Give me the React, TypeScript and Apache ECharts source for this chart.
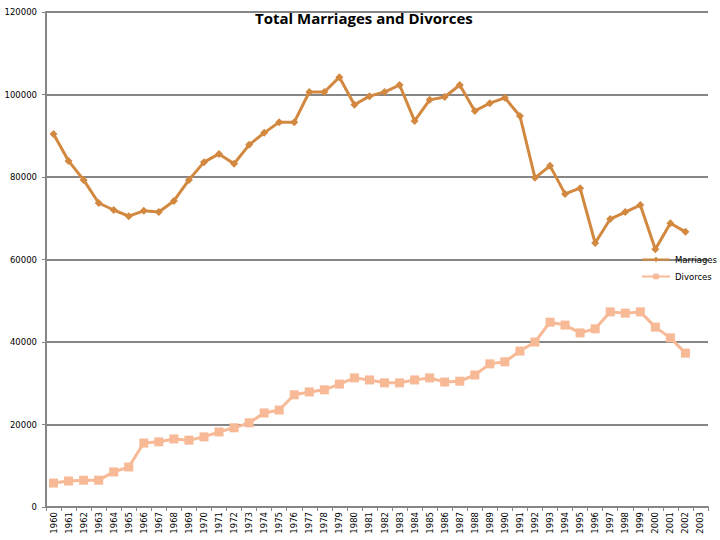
import React, { useEffect, useRef } from "react";
import * as echarts from "echarts";

const years: string[] = [];
for (let y = 1960; y <= 2003; y++) years.push(String(y));

const marriages = [
  90400, 83900, 79300, 73700, 72000, 70500, 71800, 71500, 74200, 79300,
  83600, 85600, 83200, 87800, 90700, 93300, 93300, 100600, 100600, 104200,
  97500, 99600, 100600, 102300, 93600, 98700, 99400, 102300, 96000, 97900,
  99200, 94800, 79800, 82700, 75900, 77300, 64000, 69800, 71500, 73200,
  62500, 68800, 66700, null,
];

const divorces = [
  5800, 6300, 6500, 6500, 8500, 9700, 15500, 15800, 16500, 16200,
  17000, 18200, 19200, 20400, 22800, 23500, 27200, 27900, 28400, 29800,
  31300, 30800, 30100, 30100, 30800, 31300, 30300, 30500, 32000, 34700,
  35200, 37800, 40000, 44800, 44100, 42200, 43200, 47300, 47000, 47300,
  43600, 41000, 37300, null,
];

const yTicks = { min: 0, max: 120000, interval: 20000 };

export default function App() {
  const ref = useRef<HTMLDivElement>(null);
  useEffect(() => {
    if (!ref.current) return;
    const chart = echarts.init(ref.current, null, { renderer: "svg" });
    const font = "DejaVu Sans";
    chart.setOption({
      animation: false,
      backgroundColor: "#ffffff",
      title: {
        text: "Total Marriages and Divorces",
        left: 250,
        top: 5,
        textStyle: { fontFamily: "Open Sans", fontWeight: "bold", fontSize: 15, color: "#000" },
      },
      legend: {
        orient: "vertical",
        left: 636,
        top: 250,
        itemWidth: 28,
        itemHeight: 7,
        itemGap: 8,
        textStyle: { fontFamily: font, fontSize: 8.5, color: "#000" },
        data: ["Marriages", "Divorces"],
      },
      grid: { left: 46, right: 12, top: 12, bottom: 33, containLabel: false },
      xAxis: {
        type: "category",
        data: years,
        boundaryGap: true,
        axisLine: { lineStyle: { color: "#868686", width: 2 } },
        axisTick: { show: true, alignWithLabel: false, length: 4, lineStyle: { color: "#868686", width: 1 } },
        axisLabel: {
          rotate: 90,
          interval: 0,
          fontFamily: font,
          fontSize: 8.5,
          color: "#000",
          margin: 5,
        },
        splitLine: { show: false },
      },
      yAxis: {
        type: "value",
        min: yTicks.min,
        max: yTicks.max,
        interval: yTicks.interval,
        axisLine: { show: true, lineStyle: { color: "#868686", width: 2 } },
        axisTick: { show: true, length: 4, lineStyle: { color: "#868686" } },
        axisLabel: {
          fontFamily: font,
          fontSize: 8.5,
          color: "#000",
          margin: 9,
          formatter: (v: number) => String(v),
        },
        splitLine: { show: true, lineStyle: { color: "#868686", width: 2 } },
      },
      series: [
        {
          name: "Marriages",
          type: "line",
          data: marriages,
          symbol: "diamond",
          symbolSize: 8,
          itemStyle: { color: "#D38840" },
          lineStyle: { color: "#D38840", width: 3 },
        },
        {
          name: "Divorces",
          type: "line",
          data: divorces,
          symbol: "rect",
          symbolSize: 9,
          itemStyle: { color: "#F7B996" },
          lineStyle: { color: "#F7B996", width: 3 },
        },
      ],
    });
    return () => chart.dispose();
  }, []);
  return (
    <div
      ref={ref}
      style={{ position: "absolute", left: 0, top: 0, width: 720, height: 540 }}
    />
  );
}
